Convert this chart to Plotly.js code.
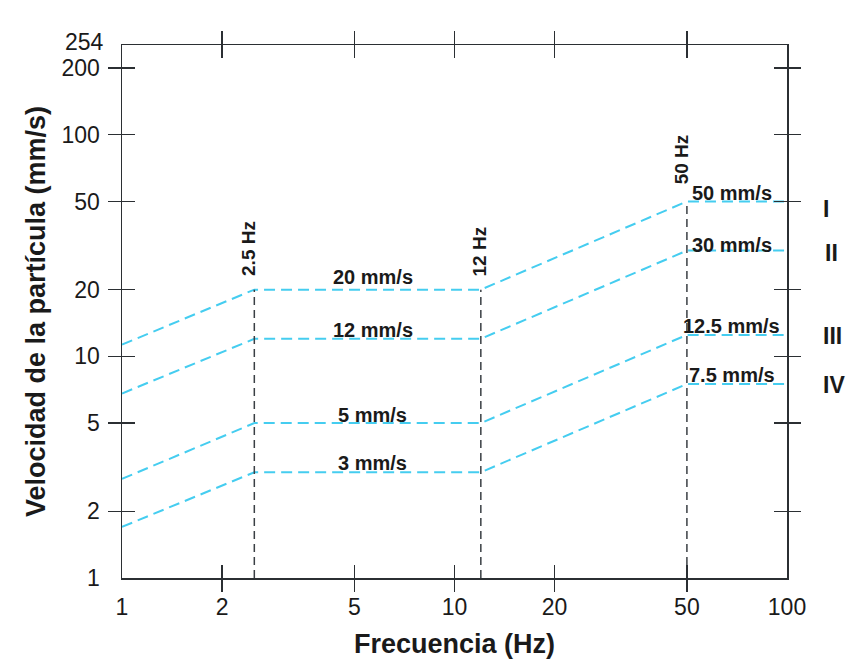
<!DOCTYPE html>
<html>
<head>
<meta charset="utf-8">
<script src="https://cdn.plot.ly/plotly-3.0.1.min.js"></script>
<style>html,body{margin:0;padding:0;background:#fff;}#chart{width:862px;height:669px;}</style>
</head>
<body>
<div id="chart"></div>
<script>
// ---- data ----
const freq = [1, 2.5, 12, 50, 100];
const seriesNames = ["I", "II", "III", "IV"];
const seriesI   = [11.3, 20, 20, 50, 50];
const seriesII  = [6.8, 12, 12, 30, 30];
const seriesIII = [2.8, 5, 5, 12.5, 12.5];
const seriesIV  = [1.7, 3, 3, 7.5, 7.5];
const lowLabels  = ["20 mm/s", "12 mm/s", "5 mm/s", "3 mm/s"];
const highLabels = ["50 mm/s", "30 mm/s", "12.5 mm/s", "7.5 mm/s"];
const vlineFreq = [2.5, 12, 50];
const vlineTop  = [20, 20, 50];
const vlineLabels = ["2.5 Hz", "12 Hz", "50 Hz"];
const xTickVals = [1, 2, 5, 10, 20, 50, 100];
const xTickText = ["1", "2", "5", "10", "20", "50", "100"];
const yTickVals = [1, 2, 5, 10, 20, 50, 100, 200];
const yTickText = ["1", "2", "5", "10", "20", "50", "100", "200"];
const yMaxLabel = "254";
const xMarkVals = [2, 5, 10, 20, 50];
const yMarkVals = [2, 5, 10, 20, 50, 100, 200];
const yMax = 254;

// ---- styling ----
const CYAN = "#45cdf0";
const DARK = "#2b2f33";
const FONT = "Liberation Sans, Arial, sans-serif";
const allSeries = [seriesI, seriesII, seriesIII, seriesIV];

const traces = [];
allSeries.forEach((s, i) => {
  traces.push({x: freq, y: s, type: "scatter", mode: "lines", name: seriesNames[i],
    line: {color: CYAN, width: 2, dash: "11px,6px"}, hoverinfo: "skip"});
});
vlineFreq.forEach((f, i) => {
  traces.push({x: [f, f], y: [1, vlineTop[i]], type: "scatter", mode: "lines",
    line: {color: "#3a3f44", width: 1.5, dash: "8px,5px"}, hoverinfo: "skip"});
});
traces.push({x: [], y: [], xaxis: "x2", yaxis: "y2", type: "scatter", hoverinfo: "skip"});
traces.push({x: [], y: [], xaxis: "x3", yaxis: "y3", type: "scatter", hoverinfo: "skip"});

const L = Math.log10;
const annotations = [];
const lowShift = [13, 9, 8, 9];
allSeries.forEach((s, i) => {
  annotations.push({x: L(Math.sqrt(freq[1] * freq[2])), y: L(s[1]), xref: "x", yref: "y",
    text: "<b>" + lowLabels[i] + "</b>", showarrow: false, xshift: 5, yshift: lowShift[i],
    font: {family: FONT, size: 20, color: "#1a1a1a"}});
});
const highShift = [8, 6, 9, 9];
allSeries.forEach((s, i) => {
  annotations.push({x: L(freq[3]), y: L(s[3]), xref: "x", yref: "y",
    text: "<b>" + highLabels[i] + "</b>", showarrow: false, xshift: 45, yshift: highShift[i],
    font: {family: FONT, size: 20, color: "#1a1a1a"}});
});
const romanShift = [-8, -2, -1, -1];
const romanX = [1.0665, 1.079, 1.0855, 1.090];
allSeries.forEach((s, i) => {
  annotations.push({x: romanX[i], y: L(s[s.length - 1]), xref: "paper", yref: "y",
    text: "<b>" + seriesNames[i] + "</b>", showarrow: false, yshift: romanShift[i],
    font: {family: FONT, size: 23, color: "#1a1a1a"}});
});
const vShiftY = [41, 38, 42];
const vShiftX = [-6, -1, -5];
vlineFreq.forEach((f, i) => {
  annotations.push({x: L(f), y: L(vlineTop[i]), xref: "x", yref: "y",
    text: "<b>" + vlineLabels[i] + "</b>", showarrow: false, textangle: -90,
    xshift: vShiftX[i], yshift: vShiftY[i],
    font: {family: FONT, size: 19, color: "#1a1a1a"}});
});
// top-of-axis value label (axis maximum)
annotations.push({x: 0, y: L(yMax), xref: "x", yref: "y", text: yMaxLabel, showarrow: false,
  xanchor: "right", yanchor: "middle", xshift: -16, yshift: 3,
  font: {family: FONT, size: 23, color: "#1a1a1a"}});

const markAxis = (vals, range, ticks) => ({
  type: "log", range: range, tickmode: "array", tickvals: vals, showticklabels: false,
  ticks: ticks, ticklen: 13, tickwidth: 1.5, tickcolor: DARK, mirror: "ticks",
  showline: false, showgrid: false, zeroline: false, fixedrange: true
});

const layout = {
  width: 862, height: 669,
  margin: {l: 122, r: 75, t: 45, b: 91},
  paper_bgcolor: "#fff", plot_bgcolor: "#fff",
  showlegend: false,
  xaxis: {
    type: "log", range: [0, 2], tickmode: "array", tickvals: xTickVals, ticktext: xTickText,
    ticks: "", showline: true, linecolor: DARK, linewidth: 1.5, mirror: true,
    showgrid: false, zeroline: false, ticklabelstandoff: 8,
    tickfont: {family: FONT, size: 23, color: "#1a1a1a"},
    title: {text: "<b>Frecuencia (Hz)</b>", standoff: 15, font: {family: FONT, size: 27, color: "#1a1a1a"}}
  },
  yaxis: {
    type: "log", range: [0, L(yMax)], tickmode: "array", tickvals: yTickVals, ticktext: yTickText,
    ticks: "", showline: true, linecolor: DARK, linewidth: 1.5, mirror: true,
    showgrid: false, zeroline: false, ticklabelstandoff: 16,
    tickfont: {family: FONT, size: 23, color: "#1a1a1a"},
    title: {text: "<b>Velocidad de la partícula (mm/s)</b>", standoff: 8, font: {family: FONT, size: 27, color: "#1a1a1a"}}
  },
  xaxis2: Object.assign(markAxis(xMarkVals, [0, 2], "outside"), {overlaying: "x", anchor: "y2"}),
  yaxis2: Object.assign(markAxis(yMarkVals, [0, L(yMax)], "outside"), {overlaying: "y", anchor: "x2"}),
  xaxis3: Object.assign(markAxis(xMarkVals, [0, 2], "inside"), {overlaying: "x", anchor: "y3"}),
  yaxis3: Object.assign(markAxis(yMarkVals, [0, L(yMax)], "inside"), {overlaying: "y", anchor: "x3"}),
  annotations: annotations
};

Plotly.newPlot("chart", traces, layout, {staticPlot: true, displayModeBar: false});
</script>
</body>
</html>
